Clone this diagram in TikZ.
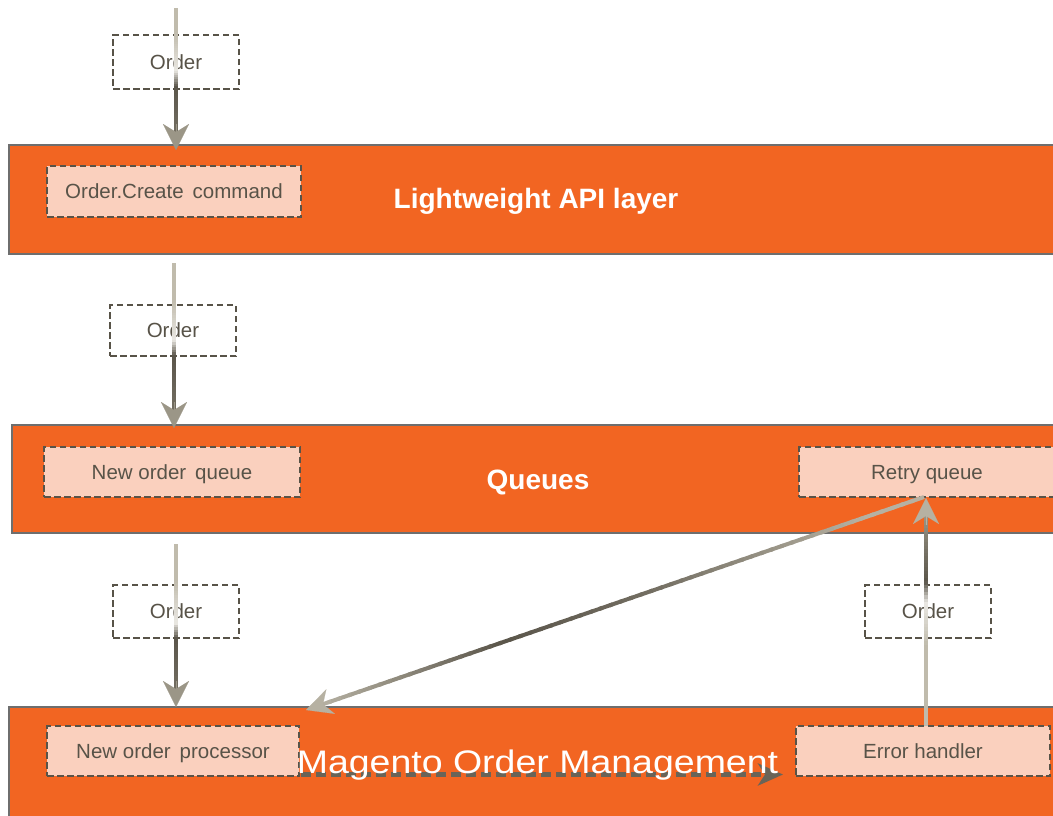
\documentclass[tikz,border=0pt]{standalone}
\usepackage{fontspec}
\usepackage{graphicx}
\setmainfont{Liberation Sans}
\usetikzlibrary{calc,arrows.meta}
\definecolor{bandfill}{RGB}{242,101,34}
\definecolor{bandline}{RGB}{110,110,110}
\definecolor{peach}{RGB}{250,208,190}
\definecolor{ink}{RGB}{88,83,72}
\definecolor{dashc}{RGB}{88,83,72}
\definecolor{tanc}{RGB}{192,187,172}
\definecolor{lightc}{RGB}{234,232,227}
\definecolor{darkc}{RGB}{90,85,74}
\definecolor{midc}{RGB}{115,110,98}
\definecolor{headc}{RGB}{155,150,135}
\definecolor{headlt}{RGB}{182,177,162}
\definecolor{dashline}{RGB}{105,100,88}

% five colour stops: A@0, B@s1, C@s2, D@s3, E@1
\newcommand{\gstops}[8]{\colorlet{gA}{#1}\colorlet{gB}{#2}\colorlet{gC}{#3}\colorlet{gD}{#4}\colorlet{gE}{#5}\def\gsA{#6}\def\gsB{#7}\def\gsC{#8}}
\newcommand{\gradarrow}[3]{%
  \coordinate (gEnd) at ($(#2)!16pt!(#1)$);
  \foreach \i in {0,...,59}{%
    \pgfmathsetmacro{\ta}{\i/60}%
    \pgfmathsetmacro{\tb}{(\i+1.3)/60}%
    \pgfmathsetmacro{\tm}{(\i+0.5)/60}%
    \ifdim\tm pt<\gsA pt
      \pgfmathsetmacro{\pp}{100*\tm/\gsA}\colorlet{segc}{gB!\pp!gA}%
    \else\ifdim\tm pt<\gsB pt
      \pgfmathsetmacro{\pp}{100*(\tm-\gsA)/(\gsB-\gsA)}\colorlet{segc}{gC!\pp!gB}%
    \else\ifdim\tm pt<\gsC pt
      \pgfmathsetmacro{\pp}{100*(\tm-\gsB)/(\gsC-\gsB)}\colorlet{segc}{gD!\pp!gC}%
    \else
      \pgfmathsetmacro{\pp}{100*(\tm-\gsC)/(1-\gsC)}\colorlet{segc}{gE!\pp!gD}%
    \fi\fi\fi
    \draw[draw=segc, line width=4pt] ($(#1)!\ta!(gEnd)$) -- ($(#1)!\tb!(gEnd)$);
  }%
  \draw[draw=#3, line width=0.1pt, -{Stealth[length=26pt,width=26pt,inset=8pt]}] ($(#2)!26.5pt!(#1)$) -- (#2);
}

\begin{document}
\begin{tikzpicture}[x=1pt,y=-1pt,
  bandbox/.style={draw=bandline, line width=2pt, fill=bandfill, inner sep=0, outer sep=0, rectangle},
  inbox/.style={draw=dashc, line width=2.5pt, dash pattern=on 6.5pt off 3.5pt, fill=peach, text=ink,
     font=\fontsize{20.5}{24}\selectfont, inner sep=0, outer sep=0, text height=14.6pt, text depth=0pt},
  lbl/.style={inbox, fill=white},
  titletext/.style={text=white, font=\bfseries\fontsize{28}{32}\selectfont, anchor=base, inner sep=0},
  dasharrow/.style={draw=dashline, line width=5pt, dash pattern=on 10pt off 5pt,
     -{Stealth[length=25pt,width=22pt,inset=7pt]}}
]
\useasboundingbox (0,0) rectangle (1053,815);
\clip (0,0) rectangle (1053,815);

% bands
\node[bandbox, anchor=north west, minimum width=1075, minimum height=109] (api) at (9,145) {};
\node[bandbox, anchor=north west, minimum width=1075, minimum height=108] (que) at (12,425) {};
\node[bandbox, anchor=north west, minimum width=1075, minimum height=125] (mgm) at (9,707) {};

% inner boxes
\node[inbox, minimum width=254, minimum height=51] (cmd) at (174,191.5) {Order.Create\hspace{9pt}command};
\node[inbox, minimum width=256, minimum height=50] (noq) at (172,472) {New order\hspace{9pt}queue};
\node[inbox, minimum width=256, minimum height=50] (rq) at (927,472) {Retry queue};
\node[inbox, minimum width=252, minimum height=50] (nop) at (173,751) {New order\hspace{9pt}processor};
\node[inbox, minimum width=254, minimum height=50] (err) at (923,751) {Error handler};

% order labels
\node[lbl, minimum width=126, minimum height=54] (o1) at (176,62) {Order};
\node[lbl, minimum width=126, minimum height=51] (o2) at (173,330.5) {Order};
\node[lbl, minimum width=126, minimum height=53] (o3) at (176,611.5) {Order};
\node[lbl, minimum width=126, minimum height=53] (o4) at (928,611.5) {Order};

% connector end points
\coordinate (s1) at (176,8);
\coordinate (e1) at ($(o1.center |- api.north)+(0,5)$);
\coordinate (s2) at ($(o2.center |- api.south)+(1,9)$);
\coordinate (e2) at ($(o2.center |- que.north)+(1,3)$);
\coordinate (s3) at ($(o3.center |- que.south)+(0,11)$);
\coordinate (e3) at ($(o3.center |- mgm.north)$);
\coordinate (s4) at ($(err.north)+(3,0)$);
\coordinate (e4) at ($(rq.south)+(-1,1)$);
\coordinate (s5) at ($(rq.south)+(-3,0)$);
\coordinate (e5) at ($(nop.north east)+(7,-16)$);

% gradient arrows
\gstops{tanc}{tanc}{lightc}{darkc}{midc}{0.2}{0.5}{0.62}
\gradarrow{s1}{e1}{headc}
\gstops{tanc}{tanc}{lightc}{darkc}{midc}{0.25}{0.52}{0.62}
\gradarrow{s2}{e2}{headc}
\gstops{tanc}{tanc}{lightc}{darkc}{midc}{0.25}{0.54}{0.64}
\gradarrow{s3}{e3}{headc}
\gstops{tanc}{tanc}{lightc}{darkc}{headc}{0.38}{0.58}{0.68}
\gradarrow{s4}{e4}{headlt}
\gstops{headlt}{headlt}{midc}{darkc}{headlt}{0.1}{0.45}{0.7}
\gradarrow{s5}{e5}{headlt}

% dashed arrow
\draw[dasharrow] ($(nop.east)+(2,23.5)$) -- ($(err.west)+(-13,23.5)$);

% titles
\node[titletext] (t1) at (536,208) {Lightweight API layer};
\node[titletext] (t2) at (538,489) {Queues};
\node[text=white, font=\fontsize{32.6}{36}\selectfont, anchor=base, inner sep=0] (t3) at (537.5,773)
  {\scalebox{1.15}[1]{Magento Order Management}};
\end{tikzpicture}
\end{document}
